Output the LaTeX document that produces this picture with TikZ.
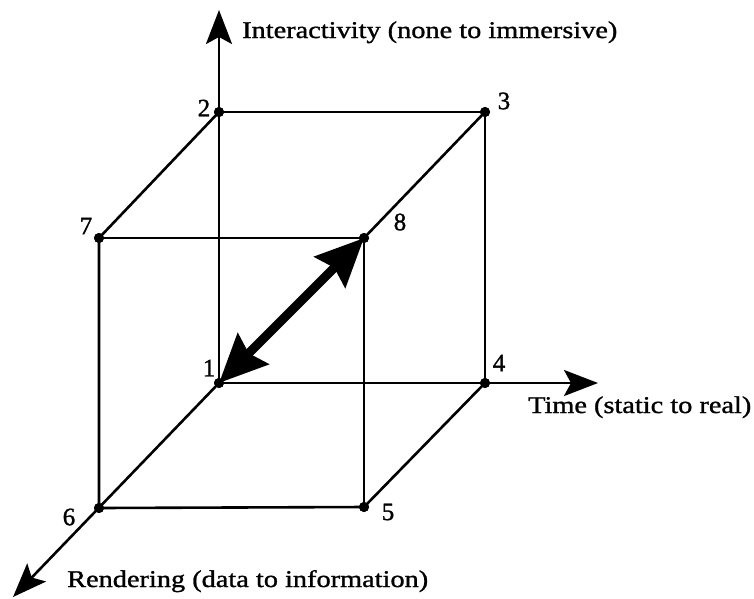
\documentclass[tikz,border=0pt]{standalone}
\usepackage{fontspec}
\setmainfont{Liberation Serif}
\newfontfamily\labfont{Liberation Serif}[FakeStretch=1.18,FakeBold=1.2]
\newfontfamily\numfont{Liberation Serif}[FakeBold=1.2]
\usetikzlibrary{arrows.meta}
\begin{document}
\begin{tikzpicture}[x=1pt,y=-1pt,
  edge/.style={line width=2.6pt},
  axis/.style={line width=2.6pt,-{Stealth[length=34pt,width=26pt,inset=7pt]}},
  dot/.style={circle,fill=black,inner sep=0pt,minimum size=10pt},
  num/.style={font=\numfont\fontsize{25}{25}\selectfont,inner sep=0pt},
  lab/.style={font=\labfont\fontsize{24}{24}\selectfont,anchor=base west,inner sep=0pt},
  big/.style={line width=9pt,{Stealth[length=48pt,width=43pt,inset=6pt]}-{Stealth[length=48pt,width=43pt,inset=6pt]}}]
\fill[white] (0,0) rectangle (754,598);
\useasboundingbox (0,0) rectangle (754,598);
% corner points
\node[dot] (n1) at (219,383) {};
\node[dot] (n2) at (219,112) {};
\node[dot] (n3) at (485,112) {};
\node[dot] (n4) at (485,383) {};
\node[dot] (n5) at (364,507) {};
\node[dot] (n6) at (99,508) {};
\node[dot] (n7) at (99,238) {};
\node[dot] (n8) at (364,238) {};
% axis ends
\coordinate (zt) at (219,10);
\coordinate (xt) at (598,383);
\coordinate (yt) at (13,597);
% axes
\draw[axis] (n1.center) -- (zt);
\draw[axis] (n1.center) -- (xt);
\draw[axis] (n1.center) -- (yt);
% cube edges
\draw[edge] (n2.center) -- (n3.center) -- (n4.center);
\draw[edge] (n2.center) -- (n7.center) -- (n6.center) -- (n5.center) -- (n4.center);
\draw[edge] (n7.center) -- (n8.center) -- (n5.center);
\draw[edge] (n8.center) -- (n3.center);
% double arrow
\draw[big] (n1.center) -- (n8.center);
% redraw dots on top
\foreach \p in {n1,n2,n3,n4,n5,n6,n7,n8} \fill (\p.center) circle (5pt);
% number labels
\node[num] (l1) at (209,368) {1};
\node[num] (l2) at (204,108) {2};
\node[num] (l3) at (504,101) {3};
\node[num] (l4) at (499,363) {4};
\node[num] (l5) at (388,512) {5};
\node[num] (l6) at (69,517) {6};
\node[num] (l7) at (86,226) {7};
\node[num] (l8) at (400,222) {8};
% axis labels
\node[lab] (tz) at (242,38) {Interactivity (none to immersive)};
\node[lab] (tx) at (528,413) {Time (static to real)};
\node[lab] (ty) at (67,587) {Rendering (data to information)};
\end{tikzpicture}
\end{document}
